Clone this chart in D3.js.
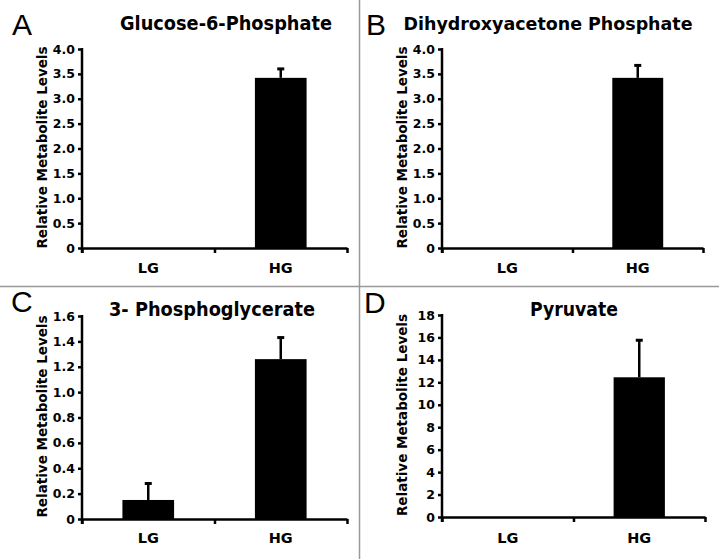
<!DOCTYPE html>
<html>
<head>
<meta charset="utf-8">
<script src="https://cdn.jsdelivr.net/npm/d3@7"></script>
<style>
  body { margin: 0; background: #fff; }
  text { font-family: "DejaVu Sans", sans-serif; font-weight: bold; fill: #000; }
</style>
</head>
<body>
<script>
// ------------------------ data ------------------------
const categories = ["LG", "HG"];
const panelLetters = ["A", "B", "C", "D"];
const titles = ["Glucose-6-Phosphate", "Dihydroxyacetone Phosphate", "3- Phosphoglycerate", "Pyruvate"];
const yLabel = "Relative Metabolite Levels";

const g6pValues = [0, 3.42];
const g6pErrors = [0, 0.18];
const dhapValues = [0, 3.42];
const dhapErrors = [0, 0.25];
const pgaValues = [0.15, 1.26];
const pgaErrors = [0.13, 0.17];
const pyrValues = [0, 12.45];
const pyrErrors = [0, 3.3];

const ticksAB = [0, 0.5, 1.0, 1.5, 2.0, 2.5, 3.0, 3.5, 4.0];
const ticksC = [0, 0.2, 0.4, 0.6, 0.8, 1.0, 1.2, 1.4, 1.6];
const ticksD = [0, 2, 4, 6, 8, 10, 12, 14, 16, 18];

// ------------------------ layout ------------------------
const W = 719, H = 559;
const svg = d3.select("body").append("svg").attr("width", W).attr("height", H);

// plot frames (pixels) for each panel
const frames = [
  { l: 82, r: 347, t: 49, b: 248, titleX: 226, titleY: 30, titleW: 212, titleFs: 19.5, letX: 12, letY: 35, labX: 47, catY: 273 },
  { l: 442, r: 703, t: 49, b: 248, titleX: 548, titleY: 30, titleW: 289, titleFs: 18, letX: 366, letY: 35, labX: 407, catY: 273 },
  { l: 82, r: 347, t: 316, b: 519, titleX: 212, titleY: 316, titleW: 206, titleFs: 19.5, letX: 11, letY: 312, labX: 47, catY: 543 },
  { l: 442, r: 705, t: 315, b: 517, titleX: 574, titleY: 316, titleW: 88, titleFs: 19.5, letX: 364, letY: 313, labX: 407, catY: 543 }
];

const panels = [
  { values: g6pValues, errors: g6pErrors, ticks: ticksAB, fmt: (d) => (d === 0 ? "0" : d.toFixed(1)) },
  { values: dhapValues, errors: dhapErrors, ticks: ticksAB, fmt: (d) => (d === 0 ? "0" : d.toFixed(1)) },
  { values: pgaValues, errors: pgaErrors, ticks: ticksC, fmt: (d) => (d === 0 ? "0" : d.toFixed(1)) },
  { values: pyrValues, errors: pyrErrors, ticks: ticksD, fmt: (d) => String(d) }
];

// divider lines between panels
svg.append("line").attr("x1", 359.5).attr("x2", 359.5).attr("y1", 0).attr("y2", H)
  .attr("stroke", "#999").attr("stroke-width", 1.5);
svg.append("line").attr("x1", 0).attr("x2", W).attr("y1", 286.5).attr("y2", 286.5)
  .attr("stroke", "#999").attr("stroke-width", 1.5);

panels.forEach((p, i) => {
  const f = frames[i];
  const g = svg.append("g");
  const data = categories.map((c, k) => ({ cat: c, value: p.values[k], err: p.errors[k] }));

  const x = d3.scaleBand().domain(categories).range([f.l, f.r]).paddingInner(0).paddingOuter(0);
  const y = d3.scaleLinear().domain([0, d3.max(p.ticks)]).range([f.b, f.t]);
  const barW = x.bandwidth() * 0.39;

  // y axis
  const yAxis = g.append("g").attr("transform", `translate(${f.l},0)`)
    .call(d3.axisLeft(y).tickValues(p.ticks).tickFormat(p.fmt).tickSizeInner(4).tickSizeOuter(0).tickPadding(3));
  yAxis.select(".domain").attr("stroke", "#000").attr("stroke-width", 2.5).attr("d", `M0,${f.t - 1}V${f.b + 5}`);
  yAxis.selectAll(".tick line").attr("stroke", "#000").attr("stroke-width", 2.5);
  yAxis.selectAll(".tick text").style("font-size", "12.5px").style("font-family", "'DejaVu Sans', sans-serif")
    .style("font-weight", "bold");

  // x axis: ticks at category boundaries
  const xb = d3.scaleLinear().domain([0, categories.length]).range([f.l, f.r]);
  const xAxis = g.append("g").attr("transform", `translate(0,${f.b})`)
    .call(d3.axisBottom(xb).tickValues(d3.range(categories.length + 1)).tickFormat("").tickSizeInner(5).tickSizeOuter(0));
  xAxis.select(".domain").attr("stroke", "#000").attr("stroke-width", 2.5);
  xAxis.selectAll(".tick line").attr("stroke", "#000").attr("stroke-width", 2.5);

  // category labels
  g.selectAll(".cat").data(categories).join("text")
    .attr("class", "cat")
    .attr("x", (d) => x(d) + x.bandwidth() / 2)
    .attr("y", f.catY)
    .attr("text-anchor", "middle")
    .style("font-size", "14.5px")
    .text((d) => d);

  // error bars (upper only)
  const eb = data.filter((d) => d.err > 0);
  g.selectAll(".err").data(eb).join("line")
    .attr("x1", (d) => x(d.cat) + x.bandwidth() / 2)
    .attr("x2", (d) => x(d.cat) + x.bandwidth() / 2)
    .attr("y1", (d) => y(d.value))
    .attr("y2", (d) => y(d.value + d.err))
    .attr("stroke", "#000").attr("stroke-width", 2.5);
  g.selectAll(".cap").data(eb).join("line")
    .attr("x1", (d) => x(d.cat) + x.bandwidth() / 2 - 3.5)
    .attr("x2", (d) => x(d.cat) + x.bandwidth() / 2 + 3.5)
    .attr("y1", (d) => y(d.value + d.err))
    .attr("y2", (d) => y(d.value + d.err))
    .attr("stroke", "#000").attr("stroke-width", 3);

  // bars
  g.selectAll(".bar").data(data.filter((d) => d.value > 0)).join("rect")
    .attr("x", (d) => x(d.cat) + (x.bandwidth() - barW) / 2)
    .attr("width", barW)
    .attr("y", (d) => y(d.value))
    .attr("height", (d) => f.b - y(d.value))
    .attr("fill", "#000");

  // title
  g.append("text").attr("x", f.titleX).attr("y", f.titleY).attr("text-anchor", "middle")
    .attr("textLength", f.titleW).attr("lengthAdjust", "spacingAndGlyphs")
    .style("font-size", f.titleFs + "px").text(titles[i]);

  // panel letter
  g.append("text").attr("x", f.letX).attr("y", f.letY)
    .style("font-family", "'Liberation Sans', Arial, sans-serif").style("font-weight", "normal")
    .style("font-size", "30px").text(panelLetters[i]);

  // y axis label
  g.append("text")
    .attr("transform", `translate(${f.labX},${(f.t + f.b) / 2 - 1}) rotate(-90)`)
    .attr("text-anchor", "middle")
    .style("font-size", "13.5px")
    .text(yLabel);
});
</script>
</body>
</html>
